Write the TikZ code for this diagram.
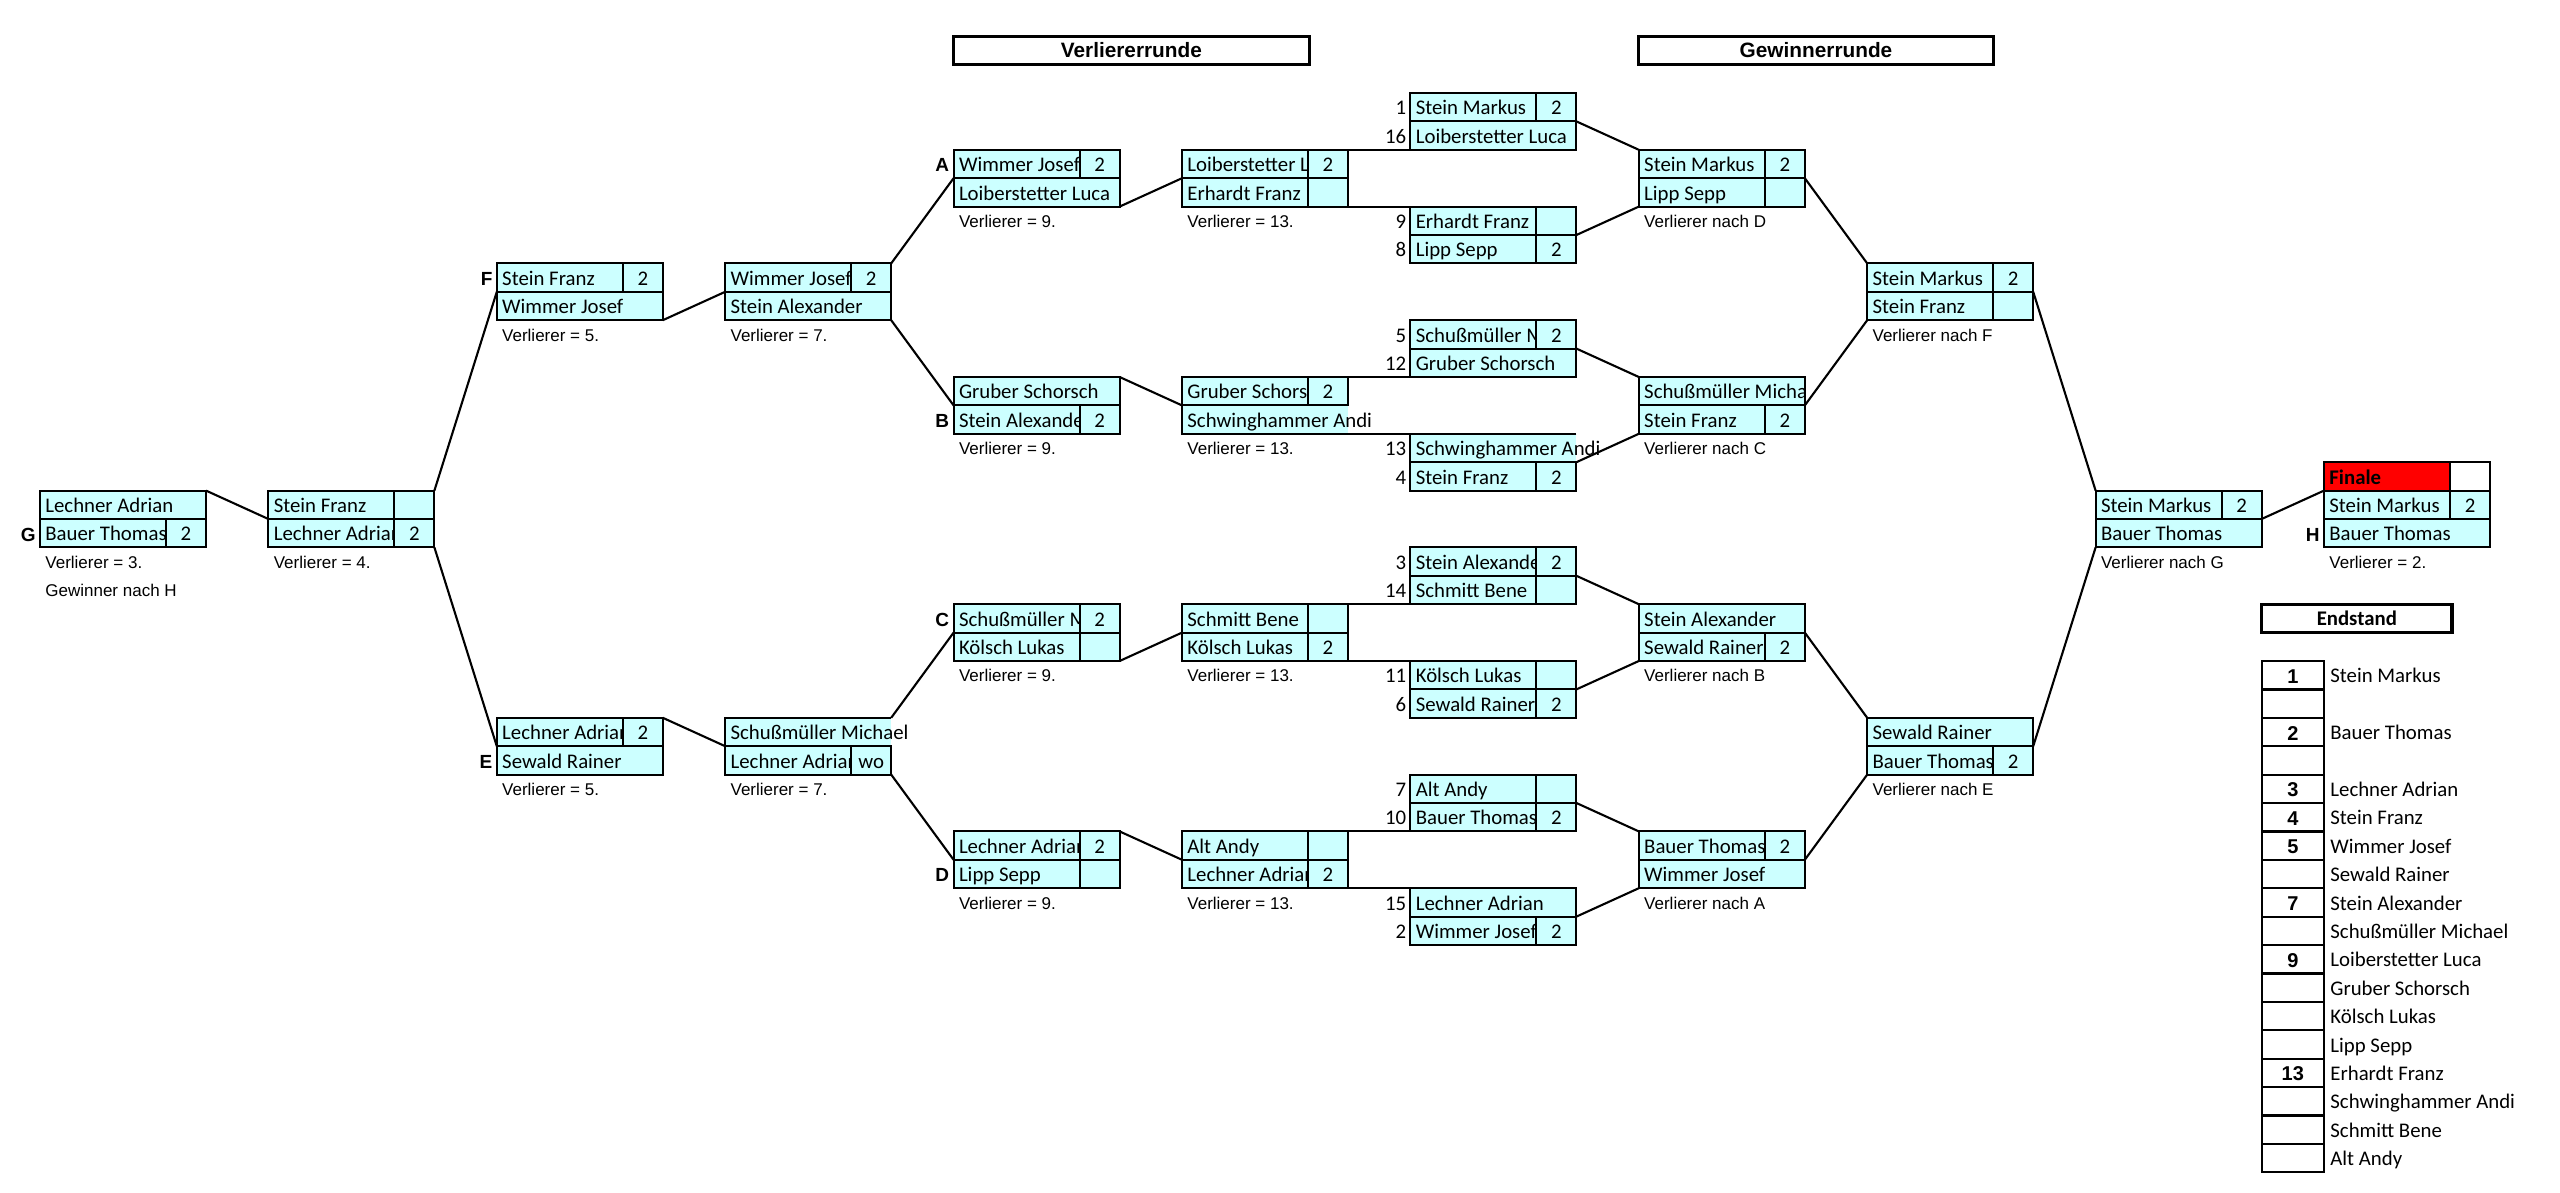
\documentclass[tikz,border=0pt]{standalone}
\usepackage{fontspec}
\setmainfont{Carlito}
\newfontfamily\arialf{Liberation Sans}
\definecolor{cfill}{HTML}{CCFFFF}
\definecolor{redf}{HTML}{FF0000}
\newcounter{tn}
\newcommand\nmfont{\fontsize{10.4}{12}\selectfont}
\newcommand\lblfont{\arialf\fontsize{8.5}{10}\selectfont}
\newcommand\ltrfont{\arialf\bfseries\fontsize{9.5}{11}\selectfont}
\newcommand\hdrfont{\arialf\bfseries\fontsize{10.4}{12}\selectfont}
\newcommand\numfont{\arialf\bfseries\fontsize{10}{12}\selectfont}
\tikzset{
  bdr/.style={line width=1pt},
  tbl/.style={line width=1.1pt},
  conn/.style={line width=1.05pt},
  gbx/.style={rectangle, inner sep=0pt, outer sep=0pt, minimum width=83pt, minimum height=28.4pt},
  nm/.style={anchor=west, inner sep=0pt, font=\nmfont, text height=6.7pt, text depth=0pt},
  sc/.style={anchor=center, inner sep=0pt, font=\nmfont, text height=6.6pt, text depth=0pt},
  lbl/.style={anchor=west, inner sep=0pt, font=\lblfont, text height=6.1pt, text depth=0pt},
  ltr/.style={anchor=east, inner sep=0pt, font=\ltrfont, text height=6.8pt, text depth=0pt},
  sn/.style={anchor=east, inner sep=0pt, font=\nmfont, text height=6.6pt, text depth=0pt},
  enm/.style={anchor=center, inner sep=0pt, font=\numfont, text height=7.2pt, text depth=0pt},
  hbox/.style={draw, line width=1.6pt, inner sep=0pt, minimum height=14.2pt, font=\hdrfont, text height=7.4pt, text depth=0pt},
}
\newcommand\gbox[3]{%
  \pgfmathsetmacro\bx{40+228.4*#2}%
  \pgfmathsetmacro\by{93+28.4*#3}%
  \node[gbx] (#1) at (\bx+83,\by+28.4) {};}
\newcommand\rowd[3]{%
  \pgfmathsetmacro\ry{\by+28.4*#1}%
  \fill[cfill] (\bx,\ry) rectangle (\bx+166,\ry+28.4);
  \begin{scope}
    \clip (\bx,\ry) rectangle (\bx+126,\ry+28.4);
    \stepcounter{tn}\node[nm] (t\arabic{tn}) at (\bx+5,\ry+15.2) {\makebox[60pt][l]{#2}};
  \end{scope}
  \if\relax\detokenize{#3}\relax\else
    \stepcounter{tn}\node[sc] (t\arabic{tn}) at (\bx+146,\ry+15.2) {#3};
  \fi
  \draw[bdr] (\bx,\ry) rectangle (\bx+166,\ry+28.4);
  \draw[bdr] (\bx+126,\ry) -- (\bx+126,\ry+28.4);}
\newcommand\rowm[2]{%
  \pgfmathsetmacro\ry{\by+28.4*#1}%
  \fill[cfill] (\bx,\ry) rectangle (\bx+166,\ry+28.4);
  \begin{scope}
    \clip (\bx,\ry) rectangle (\bx+166,\ry+28.4);
    \stepcounter{tn}\node[nm] (t\arabic{tn}) at (\bx+5,\ry+15.2) {\makebox[80pt][l]{#2}};
  \end{scope}
  \draw[bdr] (\bx,\ry) rectangle (\bx+166,\ry+28.4);}
\newcommand\rowo[2]{%
  \pgfmathsetmacro\ry{\by+28.4*#1}%
  \fill[cfill] (\bx,\ry) rectangle (\bx+166,\ry+28.4);
  \stepcounter{tn}\node[nm] (t\arabic{tn}) at (\bx+5,\ry+15.2) {#2};
  \draw[bdr] (\bx+166,\ry) -- (\bx,\ry) -- (\bx,\ry+28.4) -- (\bx+166,\ry+28.4);}
\newcommand\vlab[3]{%
  \pgfmathsetmacro\lx{45+228.4*#1}%
  \pgfmathsetmacro\ly{93+28.4*#2+14.8}%
  \stepcounter{tn}\node[lbl] (t\arabic{tn}) at (\lx,\ly) {#3};}
\newcommand\bltr[3]{%
  \pgfmathsetmacro\lx{40+228.4*#1-4}%
  \pgfmathsetmacro\ly{93+28.4*#2+15.2}%
  \stepcounter{tn}\node[ltr] (t\arabic{tn}) at (\lx,\ly) {#3};}
\newcommand\seednum[2]{%
  \pgfmathsetmacro\ly{93+28.4*#1+15.2}%
  \stepcounter{tn}\node[sn] (t\arabic{tn}) at (1406.5,\ly) {#2};}
\begin{document}
\begin{tikzpicture}[x=0.5pt,y=-0.5pt]
\fill[white] (0,0) rectangle (2560,1193);
\useasboundingbox (0,0) rectangle (2560,1193);

% headers
\node[hbox, minimum width=177.8pt] (hv) at (1131.4,50.4) {Verliererrunde};
\node[hbox, minimum width=177.2pt] (hg) at (1816,50.4) {Gewinnerrunde};

% loser bracket
\gbox{g}{0}{14}\rowm{0}{Lechner Adrian}\rowd{1}{Bauer Thomas}{2}
\gbox{l1}{1}{14}\rowd{0}{Stein Franz}{}\rowd{1}{Lechner Adrian}{2}
\gbox{f}{2}{6}\rowd{0}{Stein Franz}{2}\rowm{1}{Wimmer Josef}
\gbox{e}{2}{22}\rowd{0}{Lechner Adrian}{2}\rowm{1}{Sewald Rainer}
\gbox{l3u}{3}{6}\rowd{0}{Wimmer Josef}{2}\rowm{1}{Stein Alexander}
\gbox{l3d}{3}{22}\rowo{0}{Schußmüller Michael}\rowd{1}{Lechner Adrian}{wo}
\gbox{a}{4}{2}\rowd{0}{Wimmer Josef}{2}\rowm{1}{Loiberstetter Luca}
\gbox{b}{4}{10}\rowm{0}{Gruber Schorsch}\rowd{1}{Stein Alexander}{2}
\gbox{c}{4}{18}\rowd{0}{Schußmüller Michael}{2}\rowd{1}{Kölsch Lukas}{}
\gbox{d}{4}{26}\rowd{0}{Lechner Adrian}{2}\rowd{1}{Lipp Sepp}{}
\gbox{l5a}{5}{2}\rowd{0}{Loiberstetter Luca}{2}\rowd{1}{Erhardt Franz}{}
\gbox{l5b}{5}{10}\rowd{0}{Gruber Schorsch}{2}\rowo{1}{Schwinghammer Andi}
\gbox{l5c}{5}{18}\rowd{0}{Schmitt Bene}{}\rowd{1}{Kölsch Lukas}{2}
\gbox{l5d}{5}{26}\rowd{0}{Alt Andy}{}\rowd{1}{Lechner Adrian}{2}

% seeds
\gbox{s0}{6}{0}\rowd{0}{Stein Markus}{2}\rowm{1}{Loiberstetter Luca}
\gbox{s1}{6}{4}\rowd{0}{Erhardt Franz}{}\rowd{1}{Lipp Sepp}{2}
\gbox{s2}{6}{8}\rowd{0}{Schußmüller Michael}{2}\rowm{1}{Gruber Schorsch}
\gbox{s3}{6}{12}\rowo{0}{Schwinghammer Andi}\rowd{1}{Stein Franz}{2}
\gbox{s4}{6}{16}\rowd{0}{Stein Alexander}{2}\rowd{1}{Schmitt Bene}{}
\gbox{s5}{6}{20}\rowd{0}{Kölsch Lukas}{}\rowd{1}{Sewald Rainer}{2}
\gbox{s6}{6}{24}\rowd{0}{Alt Andy}{}\rowd{1}{Bauer Thomas}{2}
\gbox{s7}{6}{28}\rowm{0}{Lechner Adrian}\rowd{1}{Wimmer Josef}{2}

% winner bracket
\gbox{w1a}{7}{2}\rowd{0}{Stein Markus}{2}\rowd{1}{Lipp Sepp}{}
\gbox{w1b}{7}{10}\rowm{0}{Schußmüller Michael}\rowd{1}{Stein Franz}{2}
\gbox{w1c}{7}{18}\rowm{0}{Stein Alexander}\rowd{1}{Sewald Rainer}{2}
\gbox{w1d}{7}{26}\rowd{0}{Bauer Thomas}{2}\rowm{1}{Wimmer Josef}
\gbox{w2a}{8}{6}\rowd{0}{Stein Markus}{2}\rowd{1}{Stein Franz}{}
\gbox{w2b}{8}{22}\rowm{0}{Sewald Rainer}\rowd{1}{Bauer Thomas}{2}
\gbox{semi}{9}{14}\rowd{0}{Stein Markus}{2}\rowm{1}{Bauer Thomas}

% final
\pgfmathsetmacro\fy{93+28.4*13}
\fill[redf] (2324,\fy) rectangle (2450,\fy+28.4);
\node[nm, font=\nmfont\bfseries] (finlbl) at (2329,\fy+15.2) {Finale};
\draw[bdr] (2324,\fy) rectangle (2490,\fy+28.4);
\draw[bdr] (2450,\fy) -- (2450,\fy+28.4);
\gbox{fin}{10}{14}\rowd{0}{Stein Markus}{2}\rowm{1}{Bauer Thomas}

% letters
\bltr{0}{15}{G}\bltr{2}{6}{F}\bltr{2}{23}{E}
\bltr{4}{2}{A}\bltr{4}{11}{B}\bltr{4}{18}{C}\bltr{4}{27}{D}
\bltr{10}{15}{H}

% seed numbers
\seednum{0}{1}\seednum{1}{16}\seednum{4}{9}\seednum{5}{8}
\seednum{8}{5}\seednum{9}{12}\seednum{12}{13}\seednum{13}{4}
\seednum{16}{3}\seednum{17}{14}\seednum{20}{11}\seednum{21}{6}
\seednum{24}{7}\seednum{25}{10}\seednum{28}{15}\seednum{29}{2}

% labels
\vlab{0}{16}{Verlierer = 3.}\vlab{0}{17}{Gewinner nach H}
\vlab{1}{16}{Verlierer = 4.}
\vlab{2}{8}{Verlierer = 5.}\vlab{2}{24}{Verlierer = 5.}
\vlab{3}{8}{Verlierer = 7.}\vlab{3}{24}{Verlierer = 7.}
\vlab{4}{4}{Verlierer = 9.}\vlab{4}{12}{Verlierer = 9.}\vlab{4}{20}{Verlierer = 9.}\vlab{4}{28}{Verlierer = 9.}
\vlab{5}{4}{Verlierer = 13.}\vlab{5}{12}{Verlierer = 13.}\vlab{5}{20}{Verlierer = 13.}\vlab{5}{28}{Verlierer = 13.}
\vlab{7}{4}{Verlierer nach D}\vlab{7}{12}{Verlierer nach C}\vlab{7}{20}{Verlierer nach B}\vlab{7}{28}{Verlierer nach A}
\vlab{8}{8}{Verlierer nach F}\vlab{8}{24}{Verlierer nach E}
\vlab{9}{16}{Verlierer nach G}
\vlab{10}{16}{Verlierer = 2.}

% connectors
\draw[conn] (g.north east) -- (l1.west);
\draw[conn] (l1.north east) -- (f.west);
\draw[conn] (l1.south east) -- (e.west);
\draw[conn] (f.south east) -- (l3u.west);
\draw[conn] (e.north east) -- (l3d.west);
\draw[conn] (l3u.north east) -- (a.west);
\draw[conn] (l3u.south east) -- (b.west);
\draw[conn] (l3d.north east) -- (c.west);
\draw[conn] (l3d.south east) -- (d.west);
\draw[conn] (a.south east) -- (l5a.west);
\draw[conn] (b.north east) -- (l5b.west);
\draw[conn] (c.south east) -- (l5c.west);
\draw[conn] (d.north east) -- (l5d.west);
\draw[bdr] (l5a.north east) -- (s0.south west);
\draw[bdr] (l5a.south east) -- (s1.north west);
\draw[bdr] (l5b.north east) -- (s2.south west);
\draw[bdr] (l5b.south east) -- (s3.north west);
\draw[bdr] (l5c.north east) -- (s4.south west);
\draw[bdr] (l5c.south east) -- (s5.north west);
\draw[bdr] (l5d.north east) -- (s6.south west);
\draw[bdr] (l5d.south east) -- (s7.north west);
\draw[conn] (s0.east) -- (w1a.north west);
\draw[conn] (s1.east) -- (w1a.south west);
\draw[conn] (s2.east) -- (w1b.north west);
\draw[conn] (s3.east) -- (w1b.south west);
\draw[conn] (s4.east) -- (w1c.north west);
\draw[conn] (s5.east) -- (w1c.south west);
\draw[conn] (s6.east) -- (w1d.north west);
\draw[conn] (s7.east) -- (w1d.south west);
\draw[conn] (w1a.east) -- (w2a.north west);
\draw[conn] (w1b.east) -- (w2a.south west);
\draw[conn] (w1c.east) -- (w2b.north west);
\draw[conn] (w1d.east) -- (w2b.south west);
\draw[conn] (w2a.east) -- (semi.north west);
\draw[conn] (w2b.east) -- (semi.south west);
\draw[conn] (semi.east) -- (fin.north west);

% Endstand
\node[hbox, minimum width=95.2pt, font=\nmfont\bfseries, text height=6.7pt] (hend) at (2356.8,618.4) {Endstand};
\foreach \i in {0,...,17} {
  \draw[tbl] (2261.6,{661+28.4*\i}) rectangle (2324,{661+28.4*(\i+1)});
}
\foreach \i/\n in {0/1,2/2,4/3,5/4,6/5,8/7,10/9,14/13} {
  \node[enm] (en\i) at (2292.8,{661+28.4*\i+15}) {\n};
}
\foreach \i/\t in {0/Stein Markus,2/Bauer Thomas,4/Lechner Adrian,5/Stein Franz,6/Wimmer Josef,7/Sewald Rainer,8/Stein Alexander,9/Schußmüller Michael,10/Loiberstetter Luca,11/Gruber Schorsch,12/Kölsch Lukas,13/Lipp Sepp,14/Erhardt Franz,15/Schwinghammer Andi,16/Schmitt Bene,17/Alt Andy} {
  \node[nm] (et\i) at (2330,{661+28.4*\i+15.2}) {\t};
}
\end{tikzpicture}
\end{document}
